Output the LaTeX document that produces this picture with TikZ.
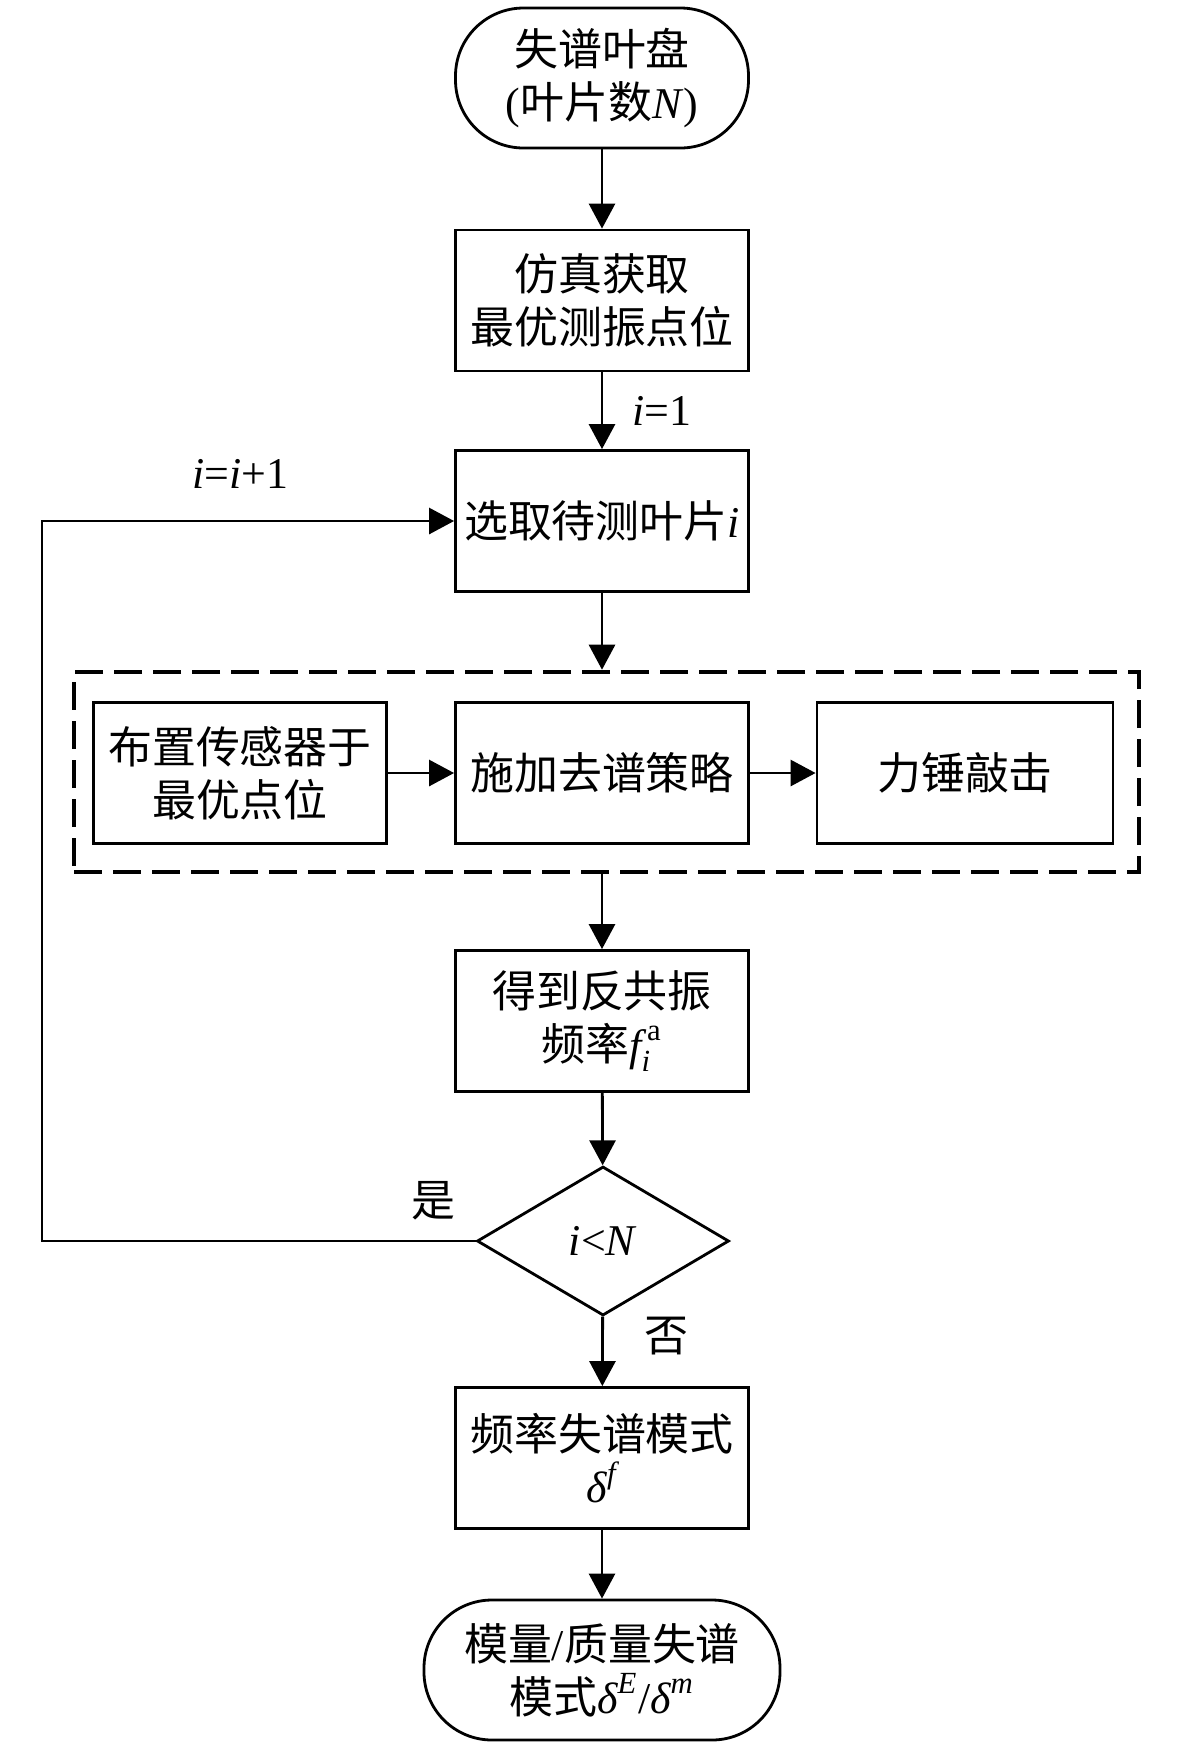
\documentclass[tikz,border=0pt]{standalone}
\usepackage{fontspec}
\usepackage{amsmath}
\setmainfont{Liberation Serif}
\newfontfamily\cjk{Noto Sans CJK SC}
\usetikzlibrary{shapes.geometric,arrows.meta}

\newcommand{\flowfont}{\cjk\fontsize{12.5pt}{15pt}\selectfont}
\newcommand{\itvar}[1]{\textrm{\itshape #1}}

\tikzset{
  box/.style={draw, line width=0.8pt, minimum width=2.93cm, minimum height=1.41cm, inner sep=0pt, align=center, font=\flowfont},
  term/.style={box, rounded corners=0.68cm, minimum height=1.40cm},
  decision/.style={draw, diamond, line width=0.8pt, minimum width=2.52cm, minimum height=1.49cm, inner sep=0pt, font=\flowfont},
  group/.style={draw, line width=1.3pt, dash pattern=on 2.8mm off 1.1mm, minimum width=10.65cm, minimum height=2.0cm},
  flow/.style={line width=0.8pt, -{Triangle[length=2.5mm,width=2.6mm]}},
  lbl/.style={font=\flowfont},
}

\begin{document}
\begin{tikzpicture}
    \useasboundingbox[fill=white] (0,0) rectangle (11.81,-17.48);
    \node[term] (start) at (6.02,-0.78) {失谱叶盘\\{\rmfamily(}叶片数\itvar{N}{\rmfamily)}};
    \node[box] (sim) at (6.02,-3.005) {仿真获取\\最优测振点位};
    \node[box] (select) at (6.02,-5.21) {选取待测叶片\itvar{i}};
    \node[group] (grp) at (6.065,-7.72) {};
    \node[box] (place) at (2.40,-7.73) {布置传感器于\\最优点位};
    \node[box] (apply) at (6.02,-7.73) {施加去谱策略};
    \node[box, minimum width=2.96cm] (hammer) at (9.65,-7.73) {力锤敲击};
    \node[box] (antires) at (6.02,-10.21) {得到反共振\\频率$\itvar{f}^{\,\textrm{a}}_{\itvar{i}}$};
    \node[decision] (judge) at (6.03,-12.41) {\itvar{i}{\rmfamily <}\itvar{N}};
    \node[box] (freq) at (6.02,-14.58) {频率失谱模式\\$\itvar{δ}^{\itvar{f}}$};
    \node[term, minimum width=3.56cm] (final) at (6.02,-16.70) {模量{\rmfamily /}质量失谱\\模式$\itvar{δ}^{\itvar{E}}${\rmfamily /}$\itvar{δ}^{\itvar{m}}$};
    \coordinate (back) at (0.42,-12.41);
    \draw[flow] (start) -- (sim);
    \draw[flow] (sim) -- (select);
    \draw[flow] (select) -- (select |- grp.north);
    \draw[flow] (place) -- (apply);
    \draw[flow] (apply) -- (hammer);
    \draw[flow] (antires |- grp.south) -- (antires);
    \draw[flow] (antires) -- (judge);
    \draw[flow] (judge) -- (freq);
    \draw[flow] (freq) -- (final);
    \draw[flow] (judge.west) -- (back) |- (select.west);
    \node[lbl] (one) at (6.62,-4.11) {\itvar{i}{\rmfamily =1}};
    \node[lbl] (next) at (2.40,-4.74) {\itvar{i}{\rmfamily =}\itvar{i}{\rmfamily +1}};
    \node[lbl] (yes) at (4.33,-12.01) {是};
    \node[lbl] (no) at (6.66,-13.36) {否};
\end{tikzpicture}
\end{document}
